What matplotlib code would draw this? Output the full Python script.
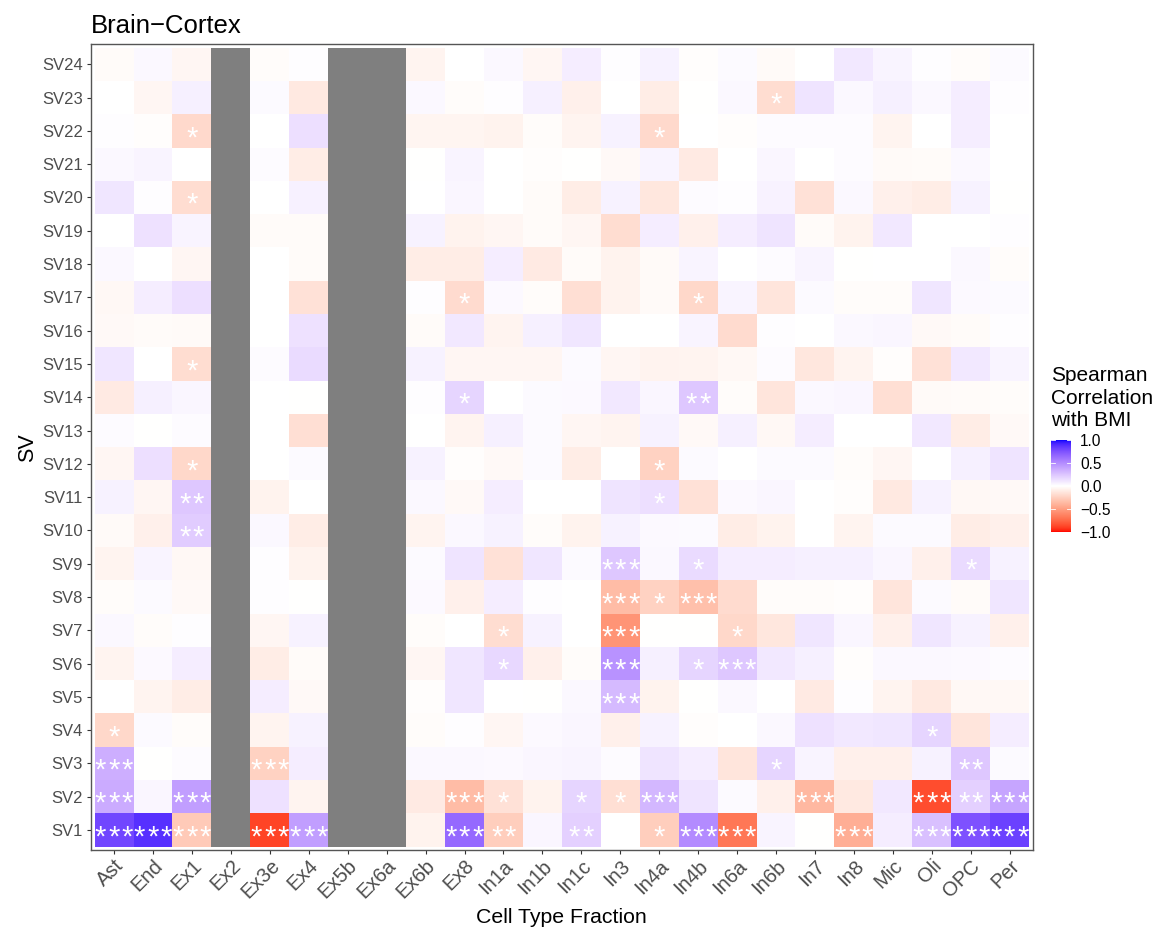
#!/usr/bin/env python3

# heatmap of spearman correlation between SVs and cell type fractions

import numpy as np
import matplotlib
matplotlib.use('Agg')
import matplotlib.pyplot as plt
from matplotlib.colors import LinearSegmentedColormap, to_rgb

plt.rcParams['font.family'] = ['Liberation Sans', 'DejaVu Sans']

cell_types = ['Ast', 'End', 'Ex1', 'Ex2', 'Ex3e', 'Ex4', 'Ex5b', 'Ex6a', 'Ex6b', 'Ex8', 'In1a', 'In1b',
              'In1c', 'In3', 'In4a', 'In4b', 'In6a', 'In6b', 'In7', 'In8', 'Mic', 'Oli', 'OPC', 'Per']
sv_labels = ['SV' + str(i) for i in range(1, 25)]

n = np.nan

# one row per SV, SV1 first
corr = [
    [.80, .88, -.28, n, -.88, .42, n, n, -.07, .65, -.26, .04, .20, 0, -.26, .50, -.68, .05, -.005, -.42, .08, .27, .75, .82],
    [.36, .04, .42, n, .13, -.06, n, n, -.11, -.35, -.16, -.07, .18, -.17, .31, .12, .025, -.08, -.37, -.12, .10, -.85, .20, .39],
    [.35, -.005, .02, n, -.24, .08, n, n, .035, .035, .03, .04, .05, .02, .12, .08, -.14, .18, .05, -.08, -.08, .06, .24, .025],
    [-.21, .025, -.02, n, -.06, .06, n, n, -.02, .012, -.05, .03, .04, -.08, .06, -.012, 0, .035, .13, .10, .11, .18, -.14, .08],
    [0, -.06, -.10, n, .08, -.035, n, n, -.012, .11, 0, -.005, .035, .30, -.07, -.005, .035, 0, -.11, .012, -.06, -.12, -.04, -.04],
    [-.06, .03, .08, n, -.10, -.025, n, n, -.05, .11, .17, -.08, -.02, .47, .07, .18, .24, .10, .07, -.012, .035, .035, .03, .02],
    [.035, -.02, .012, n, -.05, .06, n, n, -.02, 0, -.18, .06, 0, -.55, -.005, -.005, -.21, -.13, .11, .04, -.08, .11, .06, -.08],
    [-.02, .025, -.035, n, .012, -.005, n, n, .03, -.08, .08, .012, 0, -.35, -.24, -.33, -.19, -.02, -.02, -.012, -.14, .025, -.025, .11],
    [-.06, .05, -.04, n, .012, -.07, n, n, .025, .12, -.16, .11, .025, .24, .035, .16, .08, .08, .07, .07, .04, -.08, .16, .06],
    [-.03, -.08, .22, n, .035, -.10, n, n, -.06, .035, .06, -.02, -.07, .06, .03, .025, -.10, -.07, 0, -.06, .025, .025, -.10, -.08],
    [.06, -.05, .24, n, -.07, 0, n, n, .035, -.035, .08, 0, 0, .12, .14, -.16, .03, .04, 0, -.012, -.12, .06, -.04, -.035],
    [-.05, .14, -.21, n, 0, .025, n, n, .06, -.012, -.035, .025, -.10, 0, -.24, .025, 0, .025, .025, -.02, -.05, 0, .07, .12],
    [.02, -.005, .02, n, 0, -.17, n, n, 0, -.06, .07, .025, -.05, -.06, .06, -.035, .07, -.04, .08, 0, 0, .10, -.10, -.035],
    [-.11, .07, .04, n, 0, -.005, n, n, .012, .18, 0, .025, .03, .10, .04, .24, -.02, -.14, .035, .04, -.17, -.03, -.025, -.02],
    [.11, .005, -.18, n, .02, .16, n, n, .06, -.05, -.05, -.05, .025, -.05, -.065, -.06, -.04, .02, -.13, -.06, -.012, -.16, .10, .05],
    [-.035, -.025, -.03, n, 0, .13, n, n, -.025, .10, -.06, .07, .11, 0, 0, .05, -.19, .012, 0, .035, .04, -.035, -.025, .012],
    [-.04, .08, .14, n, 0, -.16, n, n, .012, -.19, .03, -.02, -.17, -.07, -.03, -.21, .05, -.14, .025, -.02, -.02, .11, .03, .025],
    [.035, 0, -.05, n, 0, -.025, n, n, -.10, -.10, .08, -.11, -.025, -.07, -.03, .05, .005, .02, .05, -.005, 0, .005, .035, -.02],
    [0, .13, .05, n, -.025, -.025, n, n, .06, -.07, -.05, -.025, -.05, -.18, .08, -.08, .08, .12, -.025, -.07, .10, 0, 0, .012],
    [.11, .012, -.18, n, 0, .065, n, n, .005, .04, .005, -.025, -.10, .06, -.13, .02, .012, .055, -.16, .035, -.08, -.10, .06, -.005],
    [.035, .05, 0, n, .02, -.10, n, n, -.005, .05, 0, -.012, -.005, -.035, .05, -.11, 0, .04, .005, .02, -.03, -.025, .035, 0],
    [.012, -.012, -.20, n, 0, .14, n, n, -.055, -.055, -.07, -.02, -.06, .06, -.20, 0, -.012, .02, .02, .02, -.06, .005, .08, 0],
    [0, -.05, .07, n, .025, -.12, n, n, .035, -.02, .012, .07, -.08, 0, -.10, -.005, .035, -.18, .12, .035, .07, .035, .08, .012],
    [-.025, .035, -.05, n, -.02, .012, n, n, -.06, 0, .035, -.05, .08, .012, .06, -.012, .025, -.03, .005, .10, .05, .012, -.02, .025],
]

# significance stars, only the cells that have them
stars = {
    'SV1': {'Ast': '***', 'End': '***', 'Ex1': '***', 'Ex3e': '***', 'Ex4': '***', 'Ex8': '***', 'In1a': '**',
            'In1c': '**', 'In4a': '*', 'In4b': '***', 'In6a': '***', 'In8': '***', 'Oli': '***', 'OPC': '***', 'Per': '***'},
    'SV2': {'Ast': '***', 'Ex1': '***', 'Ex8': '***', 'In1a': '*', 'In1c': '*', 'In3': '*', 'In4a': '***',
            'In7': '***', 'Oli': '***', 'OPC': '**', 'Per': '***'},
    'SV3': {'Ast': '***', 'Ex3e': '***', 'In6b': '*', 'OPC': '**'},
    'SV4': {'Ast': '*', 'Oli': '*'},
    'SV5': {'In3': '***'},
    'SV6': {'In1a': '*', 'In3': '***', 'In4b': '*', 'In6a': '***'},
    'SV7': {'In1a': '*', 'In3': '***', 'In6a': '*'},
    'SV8': {'In3': '***', 'In4a': '*', 'In4b': '***'},
    'SV9': {'In3': '***', 'In4b': '*', 'OPC': '*'},
    'SV10': {'Ex1': '**'},
    'SV11': {'Ex1': '**', 'In4a': '*'},
    'SV12': {'Ex1': '*', 'In4a': '*'},
    'SV14': {'Ex8': '*', 'In4b': '**'},
    'SV15': {'Ex1': '*'},
    'SV17': {'Ex8': '*', 'In4b': '*'},
    'SV20': {'Ex1': '*'},
    'SV22': {'Ex1': '*', 'In4a': '*'},
    'SV23': {'In6b': '*'},
}


# ggplot interpolates its gradients in Lab space
def rgb2lab(c):
    c = np.array(to_rgb(c))
    c = np.where(c > 0.04045, ((c + 0.055) / 1.055) ** 2.4, c / 12.92)
    m = np.array([[0.4124, 0.3576, 0.1805], [0.2126, 0.7152, 0.0722], [0.0193, 0.1192, 0.9505]])
    xyz = m.dot(c) / np.array([0.9505, 1.0, 1.089])
    f = np.where(xyz > 0.008856, np.cbrt(xyz), 7.787 * xyz + 16 / 116)
    return np.array([116 * f[1] - 16, 500 * (f[0] - f[1]), 200 * (f[1] - f[2])])


def lab2rgb(lab):
    fy = (lab[0] + 16) / 116
    f = np.array([fy + lab[1] / 500, fy, fy - lab[2] / 200])
    xyz = np.where(f ** 3 > 0.008856, f ** 3, (f - 16 / 116) / 7.787) * np.array([0.9505, 1.0, 1.089])
    m = np.array([[3.2406, -1.5372, -0.4986], [-0.9689, 1.8758, 0.0415], [0.0557, -0.2040, 1.0570]])
    c = np.clip(m.dot(xyz), 0, 1)
    return np.where(c > 0.0031308, 1.055 * c ** (1 / 2.4) - 0.055, 12.92 * c)


ramp = []
for t in np.linspace(1, 0, 128):
    ramp.append(lab2rgb(rgb2lab('white') * (1 - t) + rgb2lab('red') * t))
for t in np.linspace(0, 1, 128):
    ramp.append(lab2rgb(rgb2lab('white') * (1 - t) + rgb2lab('blue') * t))
cmap = LinearSegmentedColormap.from_list('gradient2', ramp, N=512)
cmap.set_bad('#7F7F7F')

W, H = 1165.0, 931.0
fig = plt.figure(figsize=(W / 100, H / 100), dpi=100)
ax = fig.add_axes([90.7 / W, 1 - 850 / H, (1033 - 90.7) / W, (850 - 44.3) / H])

xe = np.arange(len(cell_types) + 1) - 0.5
ye = np.arange(len(sv_labels) + 1) - 0.5
mesh = ax.pcolormesh(xe, ye, np.ma.masked_invalid(np.array(corr)), cmap=cmap, vmin=-1, vmax=1,
                     linewidth=0, rasterized=True)

# each star on its own so they get the wide spacing of the original
for sv, cells in stars.items():
    for cell, s in cells.items():
        for k in range(len(s)):
            ax.text(cell_types.index(cell) + (k - (len(s) - 1) / 2) * 0.345, sv_labels.index(sv) - 0.22, '*',
                    color='white', fontsize=21, ha='center', va='center', clip_on=False)

ax.set_xlim(-0.6, 23.6)
ax.set_ylim(-0.6, 23.6)
ax.set_xticks(range(len(cell_types)))
ax.set_xticklabels(cell_types, rotation=45, ha='right', rotation_mode='anchor', fontsize=14.5, color='#4D4D4D')
ax.set_yticks(range(len(sv_labels)))
ax.set_yticklabels(sv_labels, fontsize=12, color='#4D4D4D')
ax.tick_params(axis='both', length=3, width=0.8, color='#333333', pad=2.5)
ax.tick_params(axis='x', pad=1.5)
for s in ax.spines.values():
    s.set_color('#555555')
    s.set_linewidth(1.0)

ax.set_xlabel('Cell Type Fraction', fontsize=15.3, labelpad=4)
ax.set_ylabel('SV', fontsize=15.5, labelpad=3)
ax.set_title('Brain\u2212Cortex', loc='left', fontsize=18.5, pad=8)

# legend colourbar with white ticks on both edges
cax = fig.add_axes([1050.5 / W, 1 - 532 / H, 20 / W, 92 / H])
cbar = fig.colorbar(mesh, cax=cax, ticks=[-1, -0.5, 0, 0.5, 1])
cbar.outline.set_visible(False)
cbar.ax.set_yticklabels(['\u22121.0', '\u22120.5', '0.0', '0.5', '1.0'], fontsize=11.2, color='black')
cbar.ax.tick_params(length=0, pad=7)
for v in [-1, -0.5, 0, 0.5, 1]:
    cbar.ax.plot([0, 0.2], [v, v], color='white', lw=0.6, transform=cbar.ax.get_yaxis_transform())
    cbar.ax.plot([0.8, 1], [v, v], color='white', lw=0.6, transform=cbar.ax.get_yaxis_transform())
fig.text(1051 / W, 1 - 430 / H, 'Spearman\nCorrelation\nwith BMI', fontsize=15, ha='left', va='bottom',
         linespacing=1.22)

plt.savefig('out.png', dpi=100)
